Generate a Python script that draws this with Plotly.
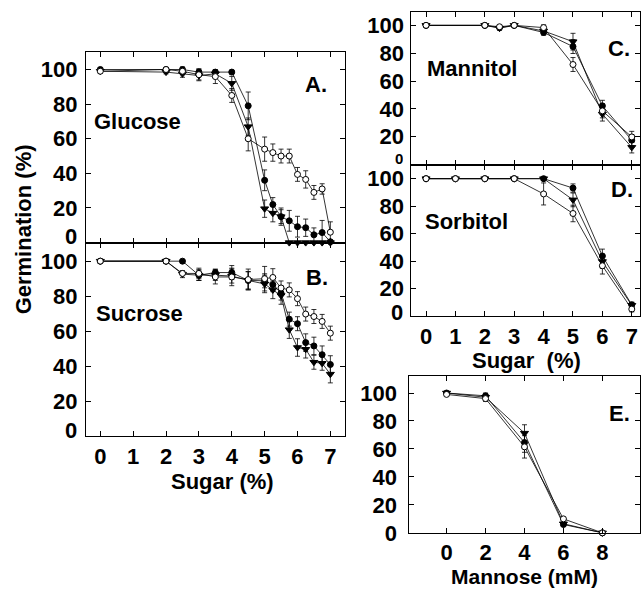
import plotly.graph_objects as go

W, H = 641, 598

# ---------------- data ----------------
# Panel A: Glucose
glu_x = [0, 2, 2.5, 3, 3.5, 4, 4.5, 5, 5.25, 5.5, 5.75, 6, 6.25, 6.5, 6.75, 7]
glu_fill = [100, 100, 100, 98.5, 98.5, 98.5, 79, 36, 22, 15, 12.6, 9.2, 8.6, 4.5, 5.8, 0.5]
glu_fill_err = [1, 1, 1.5, 2, 1, 1, 8, 6, 4, 4, 6, 6, 5, 4, 7, 1]
glu_tri = [99, 98.5, 97.5, 96.5, 97.5, 92, 67, 19.6, 17, 15, 0, 0, 0, 0, 0, 0]
glu_tri_err = [1, 1, 2, 3, 2, 4, 5, 5, 5, 5, 0.5, 0.5, 0.5, 0.5, 0.5, 0.5]
glu_open = [99, 100, 99, 97, 95.9, 85, 60, 54, 52, 50, 50, 39.4, 36.5, 29, 31, 6]
glu_open_err = [1, 1, 2, 3, 4, 4, 7, 7, 5, 4, 4, 4, 5, 4, 3, 6]

# Panel B: Sucrose
suc_x = [0, 2, 2.5, 3, 3.5, 4, 4.5, 5, 5.25, 5.5, 5.75, 6, 6.25, 6.5, 6.75, 7]
suc_fill = [100, 100, 100, 92, 93.5, 93.5, 89, 88.8, 86.6, 81.8, 66.9, 64.3, 53.5, 51.6, 46.6, 41]
suc_fill_err = [1, 1, 1, 3, 2, 4, 5, 4, 4, 4, 4, 4, 5, 5, 5, 5]
suc_tri = [100, 100, 92.6, 92, 92, 91.5, 89, 87, 83.6, 80.4, 60.9, 50.7, 49.7, 42.3, 41.7, 35.5]
suc_tri_err = [1, 1, 2, 3, 3, 4, 5, 5, 5, 5, 5, 5, 5, 4, 4, 5]
suc_open = [100, 100, 93, 93, 91, 91, 89.5, 90, 90.7, 84.7, 83.6, 78.6, 69.8, 68.4, 65.6, 58.9]
suc_open_err = [1, 1, 1, 3, 4, 5, 6, 7, 5, 4, 4, 4, 4, 4, 4, 4]

# Panel C: Mannitol
man_x = [0, 2, 2.5, 3, 4, 5, 6, 7]
man_fill = [100, 100, 98.4, 100, 94.9, 84.8, 42.2, 17.6]
man_fill_err = [0.5, 0.5, 1.5, 1, 2, 5, 4, 4]
man_tri = [100, 100, 98, 100, 96, 88.3, 36.3, 12.4]
man_tri_err = [0.5, 0.5, 1.5, 1, 2, 6, 5, 4]
man_open = [100, 100, 99, 100, 98.4, 71.9, 38.6, 19.9]
man_open_err = [0.5, 0.5, 1, 1, 2, 5, 5, 4]

# Panel D: Sorbitol
sor_x = [0, 1, 2, 3, 4, 5, 6, 7]
sor_fill = [100, 100, 100, 100, 100, 93.2, 43.8, 8.3]
sor_fill_err = [0.5, 0.5, 0.5, 0.5, 1, 3, 5, 2]
sor_tri = [100, 100, 100, 100, 100, 84.6, 39.8, 8]
sor_tri_err = [0.5, 0.5, 0.5, 0.5, 1, 5, 5, 2]
sor_open = [100, 100, 100, 100, 88.9, 74.7, 36.7, 5.2]
sor_open_err = [0.5, 0.5, 0.5, 0.5, 8, 6, 6, 2]

# Panel E: Mannose (mM)
mno_x = [0, 2, 4, 6, 8]
mno_fill = [100, 98, 64.6, 6, 0]
mno_fill_err = [1, 2, 7, 1, 0.5]
mno_tri = [100, 97, 71.3, 6.5, 0]
mno_tri_err = [1, 2, 6, 1, 0.5]
mno_open = [99, 96, 61.5, 10, 0]
mno_open_err = [1, 2, 8, 1, 0.5]

y_ticks = [0, 20, 40, 60, 80, 100]
y_text_raised0 = ["", "20", "40", "60", "80", "100"]   # "0" drawn slightly raised, as in the original
y_text = ["0", "20", "40", "60", "80", "100"]
sugar_ticks = [0, 1, 2, 3, 4, 5, 6, 7]
mannose_ticks = [0, 2, 4, 6, 8]

# ---------------- figure ----------------
FONT = "Liberation Sans, Arial, Helvetica, sans-serif"
FS = 22


def px(x):
    return x / W


def py(y):
    return 1 - y / H


fig = go.Figure()

panels = [
    ("x", "y", glu_x, [(glu_fill, glu_fill_err), (glu_tri, glu_tri_err), (glu_open, glu_open_err)]),
    ("x2", "y2", suc_x, [(suc_fill, suc_fill_err), (suc_tri, suc_tri_err), (suc_open, suc_open_err)]),
    ("x3", "y3", man_x, [(man_fill, man_fill_err), (man_tri, man_tri_err), (man_open, man_open_err)]),
    ("x4", "y4", sor_x, [(sor_fill, sor_fill_err), (sor_tri, sor_tri_err), (sor_open, sor_open_err)]),
    ("x5", "y5", mno_x, [(mno_fill, mno_fill_err), (mno_tri, mno_tri_err), (mno_open, mno_open_err)]),
]

styles = [
    dict(symbol="circle", size=6, color="black", line=dict(color="black", width=1)),
    dict(symbol="triangle-down", size=7, color="black", line=dict(color="black", width=1)),
    dict(symbol="circle", size=6, color="white", line=dict(color="black", width=1)),
]
names = ["filled circle", "filled triangle", "open circle"]

for xa, ya, xs, series in panels:
    for (vals, errs), st, nm in zip(series, styles, names):
        fig.add_trace(go.Scatter(
            x=xs, y=vals, xaxis=xa, yaxis=ya, mode="lines+markers", name=nm,
            showlegend=False, cliponaxis=False,
            line=dict(color="black", width=0.8),
            marker=st,
            error_y=dict(type="data", array=errs, visible=True, color="black",
                         thickness=0.8, width=2.5),
        ))

tickfont = dict(family=FONT, size=FS, color="black", weight="bold")

common_axis = dict(showline=True, linecolor="black", linewidth=1, mirror="ticks",
                   ticks="inside", ticklen=5, tickwidth=1, tickcolor="black",
                   showgrid=False, zeroline=False, tickfont=tickfont)

# domains (pixels)
A_LEFT, AB_RIGHT = 86, 346
CD_LEFT = 412
E_LEFT = 410
A_x = [px(A_LEFT), px(AB_RIGHT)]
A_y = [py(248), py(53)]
B_y = [py(446), py(248)]
C_x = [px(CD_LEFT), 1.0]
C_y = [py(168.3), py(12.7)]
D_y = [py(323.3), py(168.3)]
E_x = [px(E_LEFT), 1.0]
E_y = [py(544.7), py(384.6)]

SO_AB, SO_CD, SO_E = 3, 2, 7

fig.update_layout(
    width=W, height=H, margin=dict(l=0, r=0, t=0, b=0),
    paper_bgcolor="white", plot_bgcolor="white",
    font=dict(family=FONT, size=FS, color="black"),
    xaxis=dict(common_axis, domain=A_x, range=[-0.44, 7.46], tickvals=sugar_ticks,
               showticklabels=False, anchor="y"),
    yaxis=dict(common_axis, domain=A_y, range=[0, 110.2], tickvals=y_ticks,
               ticktext=y_text_raised0, anchor="x", ticklabelstandoff=SO_AB),
    xaxis2=dict(common_axis, domain=A_x, range=[-0.44, 7.46], tickvals=sugar_ticks,
                anchor="y2"),
    yaxis2=dict(common_axis, domain=B_y, range=[0, 110.6], tickvals=y_ticks,
                ticktext=y_text_raised0, anchor="x2", ticklabelstandoff=SO_AB),
    xaxis3=dict(common_axis, domain=C_x, range=[-0.5, 7.28], tickvals=sugar_ticks,
                showticklabels=False, anchor="y3"),
    yaxis3=dict(common_axis, domain=C_y, range=[0, 109.3], tickvals=y_ticks,
                ticktext=y_text_raised0, anchor="x3", ticklabelstandoff=SO_CD),
    xaxis4=dict(common_axis, domain=C_x, range=[-0.5, 7.28], tickvals=sugar_ticks,
                anchor="y4", ticklabelstandoff=0),
    yaxis4=dict(common_axis, domain=D_y, range=[0, 110.2], tickvals=y_ticks,
                ticktext=y_text_raised0, anchor="x4", ticklabelstandoff=SO_CD),
    xaxis5=dict(common_axis, domain=E_x, range=[-1.91, 9.93], tickvals=mannose_ticks,
                anchor="y5", ticklabelstandoff=0),
    yaxis5=dict(common_axis, domain=E_y, range=[0, 112], tickvals=y_ticks,
                ticktext=y_text, anchor="x5", ticklabelstandoff=SO_E),
)


def ann(text, x, y, xanchor="center", angle=0, yanchor="middle", size=FS, height=None):
    kw = {}
    if height is not None:
        kw["height"] = height
        kw["valign"] = "middle"
    fig.add_annotation(text=text, x=px(x), y=py(y), xref="paper", yref="paper",
                       xanchor=xanchor, yanchor=yanchor, showarrow=False,
                       textangle=angle, borderpad=0,
                       font=dict(family=FONT, size=size, color="black", weight="bold"),
                       **kw)


# raised "0" tick labels (the original prints them a little above the axis line)
LABEL_PAD = 5
ann("0", A_LEFT - SO_AB - LABEL_PAD, 241, "right", height=16)
ann("0", A_LEFT - SO_AB - LABEL_PAD, 440, "right", height=16)
ann("0", CD_LEFT - SO_CD - LABEL_PAD, 162, "right", size=15, height=12)
ann("0", CD_LEFT - SO_CD - LABEL_PAD, 319, "right", height=16)

ann("Glucose", 92.7, 124.3, "left")
ann("A.", 328.3, 86, "right")
ann("Sucrose", 95, 320, "left")
ann("B.", 330, 283.3, "right")
ann("Mannitol", 426.7, 70, "left")
ann("C.", 631.7, 50, "right")
ann("Sorbitol", 425, 226.7, "left")
ann("D.", 635, 193.3, "right")
ann("E.", 631.7, 422.7, "right")
ann("Germination (%)", 23, 234.5, "center", angle=-90)
ann("Sugar (%)", 223, 491.7, "center")
ann("Sugar  (%)", 527, 369, "center")
ann("Mannose (mM)", 525, 589, "center", size=21)

fig.write_html("out.html")
